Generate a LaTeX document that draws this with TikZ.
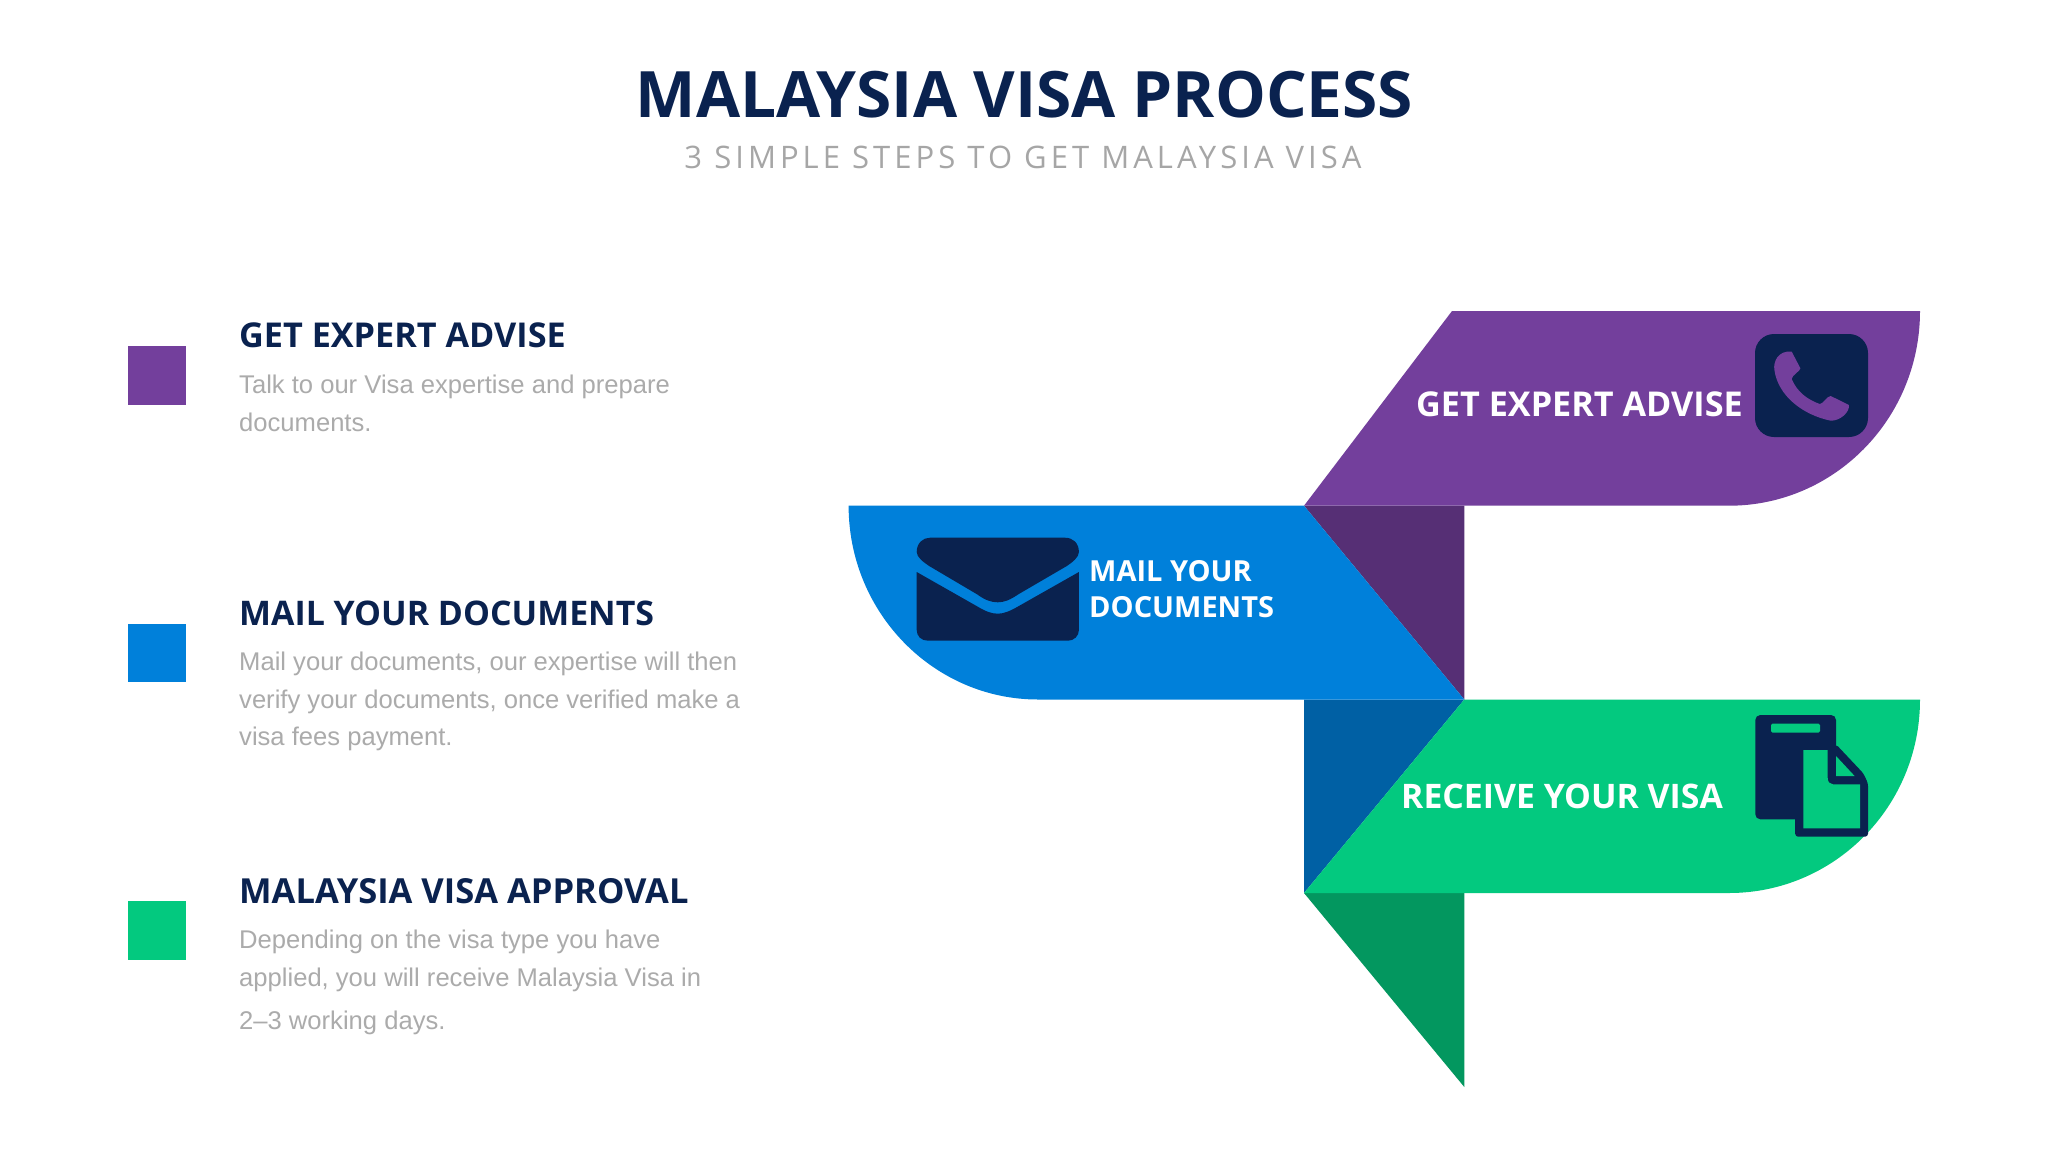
\documentclass[tikz,border=0pt]{standalone}
\usepackage{fontspec}
\setmainfont{Open Sans}
\newfontfamily\bodyfont{Liberation Sans}
\definecolor{navy}{HTML}{0A224F}
\definecolor{purp}{HTML}{733F9C}
\definecolor{purpd}{HTML}{562F75}
\definecolor{blu}{HTML}{0080DA}
\definecolor{blud}{HTML}{0060A4}
\definecolor{grn}{HTML}{03C97F}
\definecolor{grnd}{HTML}{03975F}
\definecolor{greytxt}{HTML}{ABABAB}
\definecolor{subgrey}{HTML}{A6A6A6}
\tikzset{
  head/.style={anchor=base west,inner sep=0pt,text=navy,font=\fontsize{34.2}{34.2}\selectfont\bfseries},
  headnarrow/.style={head,font=\fontsize{33.9}{33.9}\selectfont\bfseries},
  headwide/.style={head,font=\fontsize{34.5}{34.5}\selectfont\bfseries},
  body/.style={anchor=base west,inner sep=0pt,text=greytxt,font=\fontsize{25.6}{25.6}\bodyfont},
  band/.style={anchor=base west,inner sep=0pt,text=white,font=\fontsize{34.2}{34.2}\selectfont\bfseries},
  bandsmall/.style={band,font=\fontsize{29}{29}\selectfont\bfseries},
  icon/.style={fill=navy,draw=none}
}
\begin{document}
\begin{tikzpicture}[x=1pt,y=-1pt]
\useasboundingbox (0,0) rectangle (2048,1152);
\fill[white] (0,0) rectangle (2048,1152);
% title
\node[anchor=base,inner sep=0pt,text=navy,font=\fontsize{64}{64}\selectfont\bfseries] (title) at (1024.5,117.5) {MALAYSIA VISA PROCESS};
\node[anchor=base,inner sep=0pt,text=subgrey,font=\fontsize{31}{31}\selectfont] (sub) at (1023,168) {\addfontfeature{LetterSpace=13}3 SIMPLE STEPS TO GET MALAYSIA VISA};
% folds
\fill[purpd] (1304,505.7) -- (1464.3,505.7) -- (1464.3,699.5) -- cycle;
\fill[blud] (1304,699.5) -- (1464.3,699.5) -- (1304,893) -- cycle;
\fill[grnd] (1304,893) -- (1464.3,893) -- (1464.3,1087) -- cycle;
% bands
\fill[purp] (1452,311) -- (1920,311) .. controls (1920,419) and (1834,505.7) .. (1729,505.7) -- (1304,505.7) -- cycle;
\fill[blu] (848.6,505.7) -- (1304,505.7) -- (1464.3,699.5) -- (1038,699.5) .. controls (934,699.5) and (848.6,613) .. (848.6,505.7) -- cycle;
\fill[grn] (1464.3,699.5) -- (1920,699.5) .. controls (1920,807) and (1834,893) .. (1729,893) -- (1304,893) -- cycle;
% phone icon
\fill[icon,rounded corners=19pt] (1755,334) rectangle (1868,437);
\fill[purp] (1791.7,351.7) -- (1800.4,368.3) .. controls (1800.4,371) and (1792,375) .. (1791.7,379)
  .. controls (1797,392) and (1808,400) .. (1819.9,404) .. controls (1823,404) and (1827,396) .. (1830.7,396)
  -- (1848.9,405) .. controls (1850,412) and (1840,421) .. (1830.7,420.7)
  .. controls (1803,415) and (1778,396) .. (1774.4,370) .. controls (1773,362) and (1778,350) .. (1791.7,351.7) -- cycle;
% envelope
\fill[icon] (916.7,552) .. controls (916.7,543) and (923,537.7) .. (930,537.7) -- (1065,537.7)
  .. controls (1073,537.7) and (1078.9,543) .. (1078.9,552) .. controls (1078.9,557) and (1073,562) .. (1066,566.5)
  -- (1018,594.5) .. controls (1010,600) and (1004,602.3) .. (997.8,602.3) .. controls (991,602.3) and (985,600) .. (977.4,594.5)
  -- (930,566.5) .. controls (923,562) and (916.7,557) .. (916.7,552) -- cycle;
\fill[icon] (916.7,572) -- (977.4,606.5) .. controls (985,611) and (991,613.7) .. (997.8,613.7) .. controls (1004,613.7) and (1010,611) .. (1018,606.5)
  -- (1078.9,572) -- (1078.9,630) .. controls (1078.9,636) and (1074,640.7) .. (1068,640.7)
  -- (928,640.7) .. controls (921,640.7) and (916.7,636) .. (916.7,630) -- cycle;
% document icon
\fill[icon,rounded corners=5pt] (1755.3,715) rectangle (1836,819.3);
\fill[icon,rounded corners=3pt] (1795.2,780) -- (1836,744.3) -- (1863.3,773.3) -- (1868,783.3) -- (1868,836.7) -- (1795.2,836.7) -- cycle;
\fill[grn,rounded corners=1.5pt] (1771,723.7) rectangle (1820,732.7);
\fill[grn] (1803.4,750) -- (1827.7,750) -- (1827.7,778) .. controls (1827.7,782) and (1830,784.3) .. (1833,784.3) -- (1860.2,784.3) -- (1860.2,828.3) -- (1803.4,828.3) -- cycle;
\fill[grn] (1836,756) -- (1854.6,776) -- (1836,776) -- cycle;
% band labels
\node[band] (b1) at (1416,416) {GET EXPERT ADVISE};
\node[bandsmall] (b2a) at (1089,581) {MAIL YOUR};
\node[bandsmall] (b2b) at (1089,617) {DOCUMENTS};
\node[band,font=\fontsize{33.8}{33.8}\selectfont\bfseries] (b3) at (1401,808.5) {RECEIVE YOUR VISA};
% legend
\fill[purp] (128,346) rectangle (185.5,404.7);
\fill[blu] (128,624) rectangle (185.5,682.3);
\fill[grn] (128,901.3) rectangle (185.5,960);
\node[head] (h1) at (239,347) {GET EXPERT ADVISE};
\node[body] (t1a) at (239,393) {Talk to our Visa expertise and prepare};
\node[body] (t1b) at (239,431) {documents.};
\node[headnarrow] (h2) at (239,625) {MAIL YOUR DOCUMENTS};
\node[body] (t2a) at (239,670) {Mail your documents, our expertise will then};
\node[body] (t2b) at (239,708) {verify your documents, once verified make a};
\node[body] (t2c) at (239,745) {visa fees payment.};
\node[headwide] (h3) at (239,903) {MALAYSIA VISA APPROVAL};
\node[body] (t3a) at (239,948) {Depending on the visa type you have};
\node[body] (t3b) at (239,986) {applied, you will receive Malaysia Visa in};
\node[body] (t3c) at (239,1029) {2–3 working days.};
\end{tikzpicture}
\end{document}
